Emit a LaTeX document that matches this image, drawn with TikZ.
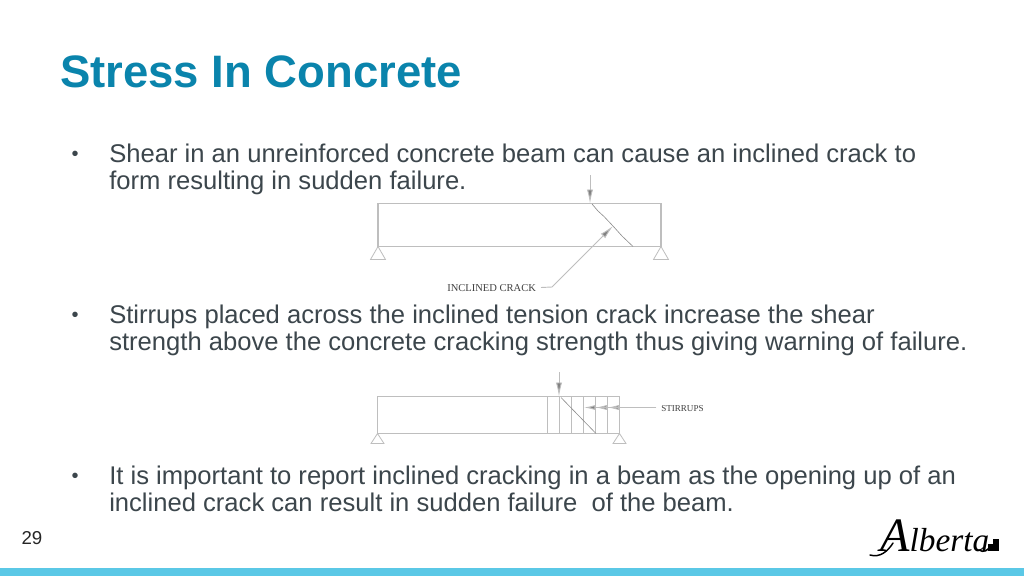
\documentclass[tikz,border=0pt]{standalone}
\usepackage{fontspec}
\setmainfont{Liberation Sans}
\newfontfamily\drawingfont{Liberation Serif}
\usetikzlibrary{arrows.meta,calc}
\definecolor{titleblue}{HTML}{0A84AC}
\definecolor{bodygrey}{HTML}{3C464C}
\definecolor{bandblue}{HTML}{5BC8E6}
\definecolor{linegrey}{HTML}{BEBEBE}
\tikzstyle{title} = [anchor=base west,inner sep=0pt,text=titleblue,font=\fontsize{34.1}{36}\selectfont\bfseries]
\tikzstyle{body} = [anchor=north west,inner sep=0pt,align=left,text=bodygrey,font=\fontsize{19.2}{20.7}\selectfont]
\tikzstyle{bullet} = [anchor=base,inner sep=0pt,text=bodygrey,font=\fontsize{15}{18}\selectfont]
\tikzstyle{callout} = [inner sep=0pt,text=black!75,font=\fontsize{7.9}{9}\selectfont\drawingfont]
\tikzstyle{beam} = [draw=linegrey,line width=0.8pt]
\tikzstyle{thinline} = [draw=black!45,line width=0.45pt]
\tikzstyle{load} = [draw=linegrey,line width=0.7pt,-{Latex[length=10.5pt,width=4.6pt,fill=black!50]}]
\tikzstyle{pointer} = [draw=linegrey,line width=0.7pt,-{Latex[length=8.5pt,width=3.8pt,fill=black!50]}]

\begin{document}
\begin{tikzpicture}[x=0.75pt,y=-0.75pt]
    \useasboundingbox (0,0) rectangle (1024,576);
    \fill[white] (0,0) rectangle (1024,576);
    \fill[bandblue] (0,568) rectangle (1024,576);

    % First we draw the texts
    \node[title] (heading) at (60,87) {Stress In Concrete};
    \foreach \pos/ \name in {{(75,160)/bulletA},{(75,321)/bulletB},{(75,482)/bulletC}}
        \node[bullet] (\name) at \pos {•};
    \node[body] (shear) at (109,143.5) {Shear in an unreinforced concrete beam can cause an inclined crack to\\form resulting in sudden failure.};
    \node[body] (stirrup) at (109,304.5) {Stirrups placed across the inclined tension crack increase the shear\\strength above the concrete cracking strength thus giving warning of failure.};
    \node[body] (report) at (109,465.5) {It is important to report inclined cracking in a beam as the opening up of an\\inclined crack can result in sudden failure\ \ of the beam.};
    \node[anchor=base,inner sep=0pt,text=black!85,font=\fontsize{14}{16}\selectfont] (page) at (32,544) {29};

    % Draw the cracked beam
    \coordinate (loadA) at (590,175);
    \coordinate (topA) at (590,203.5);
    \coordinate (midA) at (613,226);
    \coordinate (endA) at (633,246.5);
    \draw[beam] (378,203.5) rectangle (661,246.5);
    \foreach \x in {378,661}
        \draw[beam,line width=0.6pt] (\x,246.5) -- ++(-7.5,13) -- ++(15,0) -- cycle;
    \draw[load] (loadA) -- (topA);
    \draw[thinline] (592,204) -- (598,211) -- (604,216.5) -- (midA) -- (622,236) -- (endA);
    \node[callout,anchor=base west] (crack) at (447,291) {INCLINED CRACK};
    \coordinate (elbowA) at (552,287);
    \draw[load] (541,287.5) -- (elbowA) -- (midA);

    % Draw the beam with stirrups
    \coordinate (loadB) at (559,372);
    \coordinate (topB) at (559,396.5);
    \coordinate (endB) at (596,433.5);
    \draw[beam] (377.5,396.5) rectangle (619.5,433.5);
    \foreach \x in {377.5,619.5}
        \draw[beam,line width=0.6pt] (\x,433.5) -- ++(-6.5,10) -- ++(13,0) -- cycle;
    \foreach \x in {547,559,571,583.5,595.5,607.5}
        \draw[beam,line width=0.7pt] (\x,396.5) -- (\x,433.5);
    \draw[load] (loadB) -- (topB);
    \draw[thinline] (561,397.5) -- (endB);
    \node[callout,anchor=base west,font=\fontsize{6.8}{8}\selectfont\drawingfont] (stirrups) at (661,411) {STIRRUPS};
    \coordinate (startS) at (656,407.5);
    \foreach \x in {607.5,595.5,584}
        \draw[pointer] (startS) -- (\x,407.5);

    % The logo goes last
    \node[anchor=base west,inner sep=0pt,text=black,font=\fontsize{25}{27}\selectfont\drawingfont\itshape] (logo) at (880,551) {{\fontsize{36}{38}\selectfont A}lberta};
    \draw[black,line width=1.1pt,line cap=round] (870,555) .. controls (880,558) and (888,551) .. (893,543);
    \draw[black,line width=1.1pt,line cap=round] (979,550) .. controls (983,553) and (989,551) .. (991,544);
    \fill[black] (988,538.5) rectangle (999,551);
    \fill[white] (988,538.5) rectangle (992.5,544);
\end{tikzpicture}
\end{document}
